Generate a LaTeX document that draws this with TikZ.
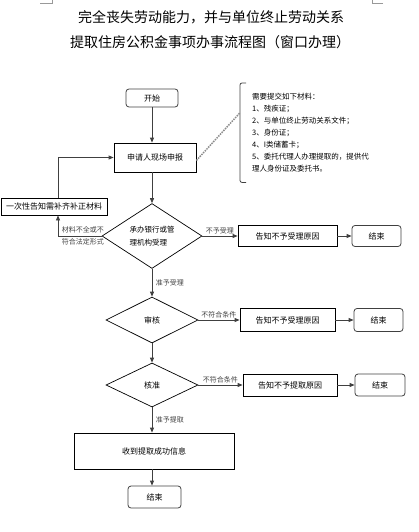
\documentclass[tikz,border=0pt]{standalone}
\usepackage{fontspec}
\setmainfont{Noto Sans CJK SC}
\usetikzlibrary{shapes.geometric, arrows.meta, positioning, calc}

\begin{document}
\begin{tikzpicture}[
  x=1pt, y=-1pt,
  ttl/.style={font=\fontsize{14}{16}\selectfont, inner sep=0pt},
  termbox/.style={
    rectangle, rounded corners=3pt,
    draw=black!75, line width=0.8pt,
    inner sep=0pt, font=\fontsize{8}{10}\selectfont
  },
  procbox/.style={
    rectangle, draw=black, line width=0.8pt,
    inner sep=0pt, align=center, font=\fontsize{8}{10}\selectfont
  },
  decision/.style={
    diamond, draw=black, line width=0.7pt,
    inner sep=0pt, align=left, font=\fontsize{7.5}{13}\selectfont
  },
  matlist/.style={
    rectangle, inner xsep=12pt, inner ysep=0pt,
    minimum height=99pt, text width=135pt, align=left,
    font=\fontsize{7.5}{12}\selectfont
  },
  arr/.style={-{Triangle[length=5pt,width=4pt]}, line width=0.8pt, black!75},
  lbl/.style={font=\fontsize{7}{12.5}\selectfont, inner sep=1.5pt, align=left}
]
\useasboundingbox (0,0) rectangle (419,532);

%% page corner marks
\draw[black!40, line width=0.5pt] (40,3) -- (52,3) -- (52,0);
\draw[black!40, line width=0.5pt] (383,3) -- (372,3) -- (372,0);

%% Title
\node[ttl] (title1) at (211,17) {完全丧失劳动能力，并与单位终止劳动关系};
\node[ttl] (title2) at (210,42) {提取住房公积金事项办事流程图（窗口办理）};

%% Main column
\node[termbox, minimum width=52pt, minimum height=18pt] (start) at (152,98) {开始};
\node[procbox, minimum width=82pt, minimum height=29pt] (apply) at (155,157.5) {申请人现场申报};
\node[decision, minimum width=100pt, minimum height=56pt] (d1) at (152,236) {承办银行或管\\理机构受理};
\node[decision, minimum width=92pt, minimum height=46pt, font=\fontsize{8}{10}\selectfont] (d2) at (152,320) {审核};
\node[decision, minimum width=92pt, minimum height=44pt, font=\fontsize{8}{10}\selectfont] (d3) at (152,385) {核准};
\node[procbox, minimum width=160pt, minimum height=36pt] (done) at (154,451) {收到提取成功信息};
\node[termbox, minimum width=53pt, minimum height=22pt] (end4) at (154.5,497) {结束};

%% Materials list
\node[matlist, anchor=north west] (mat) at (240,83) {%
  需要提交如下材料：\\
  1、残疾证；\\
  2、与单位终止劳动关系文件；\\
  3、身份证；\\
  4、I类储蓄卡；\\
  5、委托代理人办理提取的，提供代\\
  理人身份证及委托书。
};
\draw[line width=0.8pt, black!75, rounded corners=2pt]
  ([xshift=6pt]mat.north west) -- (mat.north west) -- (mat.south west) -- ([xshift=6pt]mat.south west);
\draw[densely dotted, line width=1.5pt, black!45] ([yshift=-3pt]apply.east) -- ([yshift=20pt]mat.west);

%% Left branch
\node[procbox, minimum width=106pt, minimum height=17pt] (fix) at (54,206.5) {一次性告知需补齐补正材料};
\coordinate (fixin) at ([xshift=4pt]fix.south);
\coordinate (fixout) at ([xshift=4pt]fix.north);

%% Right branches
\node[procbox, minimum width=99pt, minimum height=21pt] (rej1) at (287.5,236) {告知不予受理原因};
\node[termbox, minimum width=49pt, minimum height=21pt] (end1) at (376.5,236) {结束};
\node[procbox, minimum width=95pt, minimum height=23pt] (rej2) at (287.5,320) {告知不予受理原因};
\node[termbox, minimum width=49pt, minimum height=23pt] (end2) at (378.5,320) {结束};
\node[procbox, minimum width=94pt, minimum height=22pt] (rej3) at (290,385) {告知不予提取原因};
\node[termbox, minimum width=50pt, minimum height=22pt] (end3) at (380,385) {结束};

%% Main arrows
\draw[arr] (start.south) -- (start.south |- apply.north);
\draw[arr] (start.south |- apply.south) -- (d1.north);
\draw[arr] (d1.south) -- (d2.north)
  node[midway, right=2pt, lbl] {准予受理};
\draw[arr] (d2.south) -- (d3.north);
\draw[arr] (d3.south) -- (d3.south |- done.north)
  node[midway, right=2pt, lbl] {准予提取};
\draw[arr] (d3.south |- done.south) -- (d3.south |- end4.north);

%% Return loop
\draw[arr] (d1.west) -- (d1.west -| fixin)
  node[midway, xshift=3pt, lbl] {材料不全或不\\符合法定形式} -- (fixin);
\draw[arr] (fixout) |- (apply.west);

%% Rejection arrows
\draw[arr] (d1.east) -- (rej1.west)
  node[midway, above, lbl] {不予受理};
\draw[arr] (rej1.east) -- (end1.west);
\draw[arr] (d2.east) -- (rej2.west)
  node[midway, above, lbl] {不符合条件};
\draw[arr] (rej2.east) -- (end2.west);
\draw[arr] (d3.east) -- (rej3.west)
  node[midway, above, lbl] {不符合条件};
\draw[arr] (rej3.east) -- (end3.west);

\end{tikzpicture}
\end{document}
